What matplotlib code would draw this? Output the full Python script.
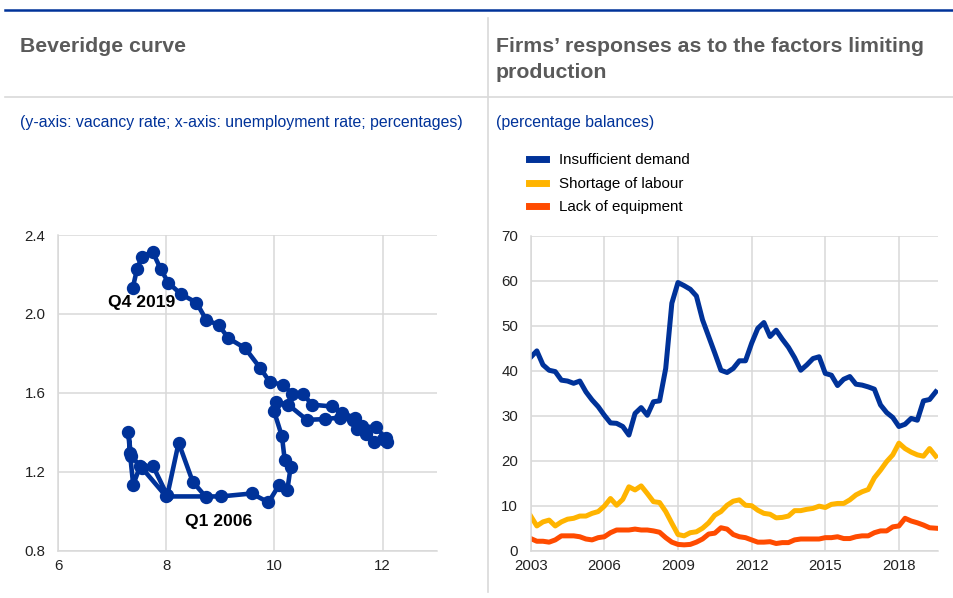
import matplotlib
matplotlib.use("Agg")
import matplotlib.pyplot as plt
from matplotlib.lines import Line2D
import numpy as np

plt.rcParams['font.family'] = ['Liberation Sans', 'DejaVu Sans']

# ---------------- Data ----------------
# Beveridge curve: Q1 2006 .. Q4 2019 (unemployment rate, vacancy rate)
unemployment = [8.74, 8.49, 8.23, 8.02, 7.76, 7.52, 7.39, 7.33,
                7.30, 7.35, 7.55, 8.00, 9.01, 9.58, 9.89, 10.09,
                10.24, 10.30, 10.19, 10.14, 9.99, 10.03, 10.26, 10.60,
                10.93, 11.22, 11.46, 11.53, 11.70, 11.84, 12.00, 12.09,
                12.06, 11.87, 11.62, 11.49, 11.25, 11.06, 10.70, 10.52,
                10.33, 10.16, 9.91, 9.74, 9.46, 9.15, 8.97, 8.74,
                8.56, 8.27, 8.04, 7.90, 7.75, 7.55, 7.46, 7.38]
vacancy = [1.07, 1.15, 1.347, 1.08, 1.227, 1.23, 1.134, 1.295,
           1.40, 1.28, 1.22, 1.075, 1.075, 1.09, 1.045, 1.134,
           1.109, 1.224, 1.261, 1.379, 1.51, 1.556, 1.539, 1.463,
           1.467, 1.475, 1.46, 1.416, 1.39, 1.353, 1.365, 1.353,
           1.37, 1.426, 1.43, 1.472, 1.50, 1.531, 1.54, 1.596,
           1.595, 1.64, 1.657, 1.725, 1.826, 1.877, 1.944, 1.970,
           2.057, 2.101, 2.158, 2.226, 2.315, 2.29, 2.226, 2.13]
label_start = "Q1 2006"
label_end = "Q4 2019"

# Factors limiting production, quarterly from Q1 2003
start_year = 2003
insufficient_demand = [43.0, 44.4, 41.3, 40.1, 39.8, 37.9, 37.7, 37.2, 37.7, 35.3,
                       33.5, 32.0, 30.1, 28.4, 28.3, 27.6, 25.7, 30.5, 31.8, 30.1,
                       33.1, 33.3, 40.5, 55.0, 59.6, 58.9, 58.1, 56.6, 51.3, 47.6,
                       43.9, 40.1, 39.6, 40.5, 42.2, 42.2, 46.1, 49.4, 50.7, 47.6,
                       49.0, 47.0, 45.2, 42.9, 40.1, 41.3, 42.7, 43.1, 39.4, 39.0,
                       36.7, 38.1, 38.7, 37.0, 36.8, 36.4, 35.9, 32.4, 30.7, 29.6,
                       27.6, 28.1, 29.4, 29.0, 33.3, 33.6, 35.3]
shortage_of_labour = [7.7, 5.5, 6.4, 6.8, 5.5, 6.4, 7.0, 7.2, 7.7, 7.7,
                      8.3, 8.7, 9.9, 11.6, 10.1, 11.4, 14.2, 13.5, 14.4, 12.7,
                      10.9, 10.7, 8.7, 6.1, 3.6, 3.3, 4.0, 4.2, 5.0, 6.2,
                      7.9, 8.7, 10.1, 11.0, 11.3, 10.1, 10.0, 9.0, 8.3, 8.1,
                      7.3, 7.4, 7.7, 8.9, 8.9, 9.2, 9.4, 9.9, 9.6, 10.3,
                      10.5, 10.5, 11.3, 12.4, 13.1, 13.6, 16.2, 17.9, 19.8, 21.3,
                      23.9, 22.7, 21.9, 21.3, 21.0, 22.7, 21.0]
lack_of_equipment = [2.7, 2.1, 2.1, 1.9, 2.4, 3.3, 3.3, 3.3, 3.1, 2.6,
                     2.4, 2.9, 3.1, 4.0, 4.6, 4.6, 4.6, 4.8, 4.6, 4.6,
                     4.4, 4.1, 2.9, 1.9, 1.4, 1.3, 1.4, 1.9, 2.6, 3.7,
                     3.9, 5.1, 4.8, 3.6, 3.1, 2.9, 2.4, 1.9, 1.9, 2.0,
                     1.6, 1.8, 1.8, 2.4, 2.6, 2.6, 2.6, 2.6, 2.9, 2.9,
                     3.1, 2.7, 2.7, 3.1, 3.3, 3.3, 4.0, 4.4, 4.4, 5.3,
                     5.5, 7.2, 6.6, 6.2, 5.7, 5.1, 5.0]
series_names = ["Insufficient demand", "Shortage of labour", "Lack of equipment"]
year_ticks = [2003, 2006, 2009, 2012, 2015, 2018]

# ---------------- Styling ----------------
BLUE = "#003299"
YELLOW = "#FFB400"
ORANGE = "#FF4B00"
GRID = "#d9d9d9"
TITLE_GREY = "#5a5a5a"
TICK_COL = "#222222"

W, H = 954, 598
fig = plt.figure(figsize=(W / 100, H / 100), dpi=100)

def fx(px):
    return px / W

def fy(py):
    return 1 - py / H

# Frame lines
fig.add_artist(Line2D([fx(5), fx(954)], [fy(9.5), fy(9.5)], color=BLUE, lw=1.8))
fig.add_artist(Line2D([fx(5), fx(954)], [fy(97), fy(97)], color=GRID, lw=1.2))
fig.add_artist(Line2D([fx(488), fx(488)], [fy(18), fy(592)], color=GRID, lw=1.2))

# Titles
TFS = 15.3
fig.text(fx(20), fy(46), "Beveridge curve", fontsize=TFS, fontweight='bold',
         color=TITLE_GREY, va='center', ha='left')
fig.text(fx(496), fy(46), "Firms’ responses as to the factors limiting",
         fontsize=TFS, fontweight='bold', color=TITLE_GREY, va='center', ha='left')
fig.text(fx(496), fy(72.5), "production",
         fontsize=TFS, fontweight='bold', color=TITLE_GREY, va='center', ha='left')
fig.text(fx(20), fy(122), "(y-axis: vacancy rate; x-axis: unemployment rate; percentages)",
         fontsize=11.4, color=BLUE, va='center', ha='left')
fig.text(fx(496), fy(122), "(percentage balances)",
         fontsize=11.4, color=BLUE, va='center', ha='left')

# ---------------- Left chart ----------------
axL = fig.add_axes([fx(58), fy(550.7), fx(436.7) - fx(58), fy(235) - fy(550.7)])
axL.plot(unemployment, vacancy, color=BLUE, lw=3.3, marker='o', ms=8.6,
         solid_joinstyle='round', zorder=3)
axL.set_xlim(6, 13)
axL.set_ylim(0.8, 2.4)
axL.set_xticks([6, 8, 10, 12])
axL.set_yticks([0.8, 1.2, 1.6, 2.0, 2.4])
axL.set_yticklabels(["0.8", "1.2", "1.6", "2.0", "2.4"])
axL.text(7.54, 2.056, label_end, fontsize=12.6, fontweight='bold', color='black',
         ha='center', va='center')
axL.text(8.96, 0.947, label_start, fontsize=12.6, fontweight='bold', color='black',
         ha='center', va='center')

# ---------------- Right chart ----------------
axR = fig.add_axes([fx(530.7), fy(550.7), fx(937.7) - fx(530.7), fy(235.7) - fy(550.7)])
xq = start_year + np.arange(len(insufficient_demand)) * 0.25
axR.plot(xq, insufficient_demand, color=BLUE, lw=3.6, solid_joinstyle='round', label=series_names[0])
axR.plot(xq, shortage_of_labour, color=YELLOW, lw=3.6, solid_joinstyle='round', label=series_names[1])
axR.plot(xq, lack_of_equipment, color=ORANGE, lw=3.6, solid_joinstyle='round', label=series_names[2])
axR.set_xlim(start_year, xq[-1] + 0.08)
axR.set_ylim(0, 70)
axR.set_xticks(year_ticks)
axR.set_xticklabels([str(y) for y in year_ticks])
axR.set_yticks(range(0, 71, 10))

for ax in (axL, axR):
    ax.grid(True, color=GRID, lw=1.1)
    ax.set_axisbelow(True)
    for s in ('top', 'right'):
        ax.spines[s].set_visible(False)
    for s in ('left', 'bottom'):
        ax.spines[s].set_color(GRID)
        ax.spines[s].set_linewidth(1.1)
    ax.tick_params(length=0, labelsize=10.8, colors=TICK_COL, pad=9)
    ax.tick_params(axis='x', pad=6)

handles = [Line2D([], [], color=c, lw=5) for c in (BLUE, YELLOW, ORANGE)]
fig.legend(handles, series_names, loc='upper left',
           bbox_to_anchor=(fx(529), fy(153.5)), frameon=False, fontsize=10.9,
           handlelength=1.15, handletextpad=0.85, labelspacing=0.62,
           borderaxespad=0, borderpad=0)

fig.savefig("out.png", dpi=100)
